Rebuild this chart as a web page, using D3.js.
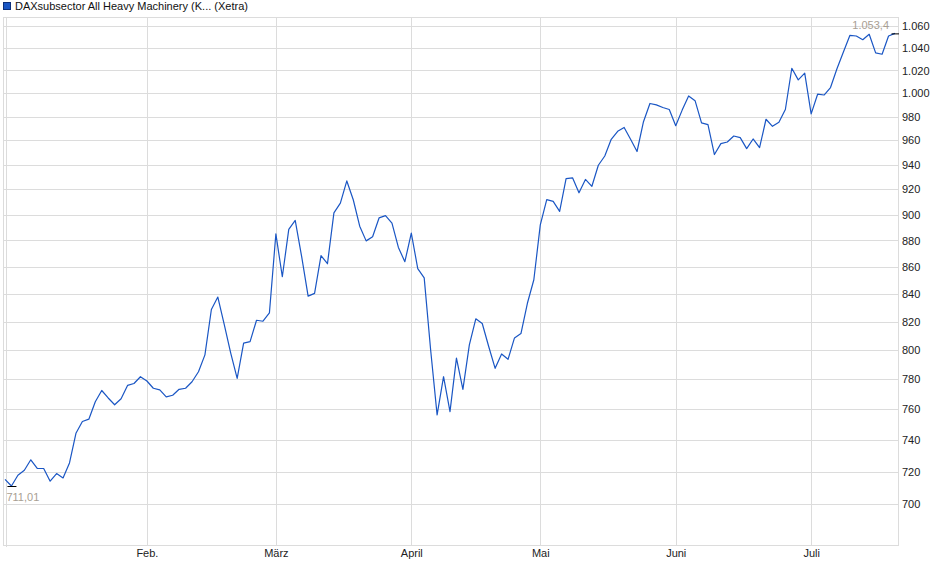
<!DOCTYPE html>
<html><head><meta charset="utf-8">
<script src="https://cdn.jsdelivr.net/npm/d3@7/dist/d3.min.js"></script>
<style>body{margin:0;background:#fff;font-family:"Liberation Sans",Arial,sans-serif;}</style>
</head><body>
<svg id="c" width="940" height="579"></svg>
<script>
const title = "DAXsubsector All Heavy Machinery (K... (Xetra)";
const values = [
715.1,711.01,717.7,720.8,727.4,722,721.9,714,718.7,716,
725.4,744.3,752,753.5,765,772.5,767.5,763,767,775.9,
777.2,781.8,778.9,774,772.9,768.2,769.3,773.3,774,778.4,
785.2,796.8,828.8,837.8,818,798,780.7,805,806,821.1,
820.4,826.4,885,852.7,888.5,895.5,867.7,838.5,840.5,868.5,
862.4,901.3,909,926.7,911.7,891,879.7,882.9,897.4,899.2,
893.4,874.7,863.9,885.6,858.8,851.9,800.2,756.3,781.8,758.5,
794.5,773.3,803.7,822.1,818.8,802.6,787.5,797.4,793.7,808.6,
811.7,833.3,850.5,892,911.8,910.4,902.5,928.6,929.2,917.2,
927.9,922.4,939.4,947,960.8,967.5,970.8,960.8,950.7,975.6,
991.2,990,987.7,986,972.2,985.5,997.7,993.6,974.6,973.2,
948.2,957.2,958.6,963.6,962.2,953.1,961.1,953.9,977.7,971.7,
975.1,986,1022,1011.7,1017.6,982.3,999.2,998.5,1005,1021.5,
1036.5,1051.5,1051,1047.6,1052.6,1035.7,1034.5,1051,1053.4];
const monthLabels = ["Feb.","März","April","Mai","Juni","Juli"];
const monthStartIndex = [22,42,63,83,104,125];
const yTicks = [700,720,740,760,780,800,820,840,860,880,900,920,940,960,980,1000,1020,1040,1060];
const minLabel = "711,01", maxLabel = "1.053,4";

const L=4, R=898, T=17, B=545;
const svg = d3.select("#c");
const x = d3.scaleLinear().domain([0, values.length-1]).range([5, 895]);
const y = d3.scaleLog().domain([675.5, 1068.5]).range([B, T]);
const de = d3.formatLocale({decimal:",", thousands:".", grouping:[3], currency:["","€"]});
const fmt = de.format(",d");
const grid = "#dcdcdc";

// horizontal gridlines
svg.append("g").selectAll("line").data(yTicks).join("line")
  .attr("x1",L).attr("x2",R).attr("y1",d=>Math.round(y(d))+0.5).attr("y2",d=>Math.round(y(d))+0.5)
  .attr("stroke",grid).attr("stroke-width",1);
// vertical gridlines
svg.append("g").selectAll("line").data(monthStartIndex).join("line")
  .attr("x1",d=>Math.round(x(d))+0.5).attr("x2",d=>Math.round(x(d))+0.5).attr("y1",T).attr("y2",B)
  .attr("stroke",grid);
svg.append("line").attr("x1",6.5).attr("x2",6.5).attr("y1",T).attr("y2",B+2).attr("stroke",grid);
// frame
svg.append("rect").attr("x",L-0.5).attr("y",T+0.5).attr("width",R-L+1).attr("height",B-T)
  .attr("fill","none").attr("stroke",grid);

// right axis labels
const yAxis = d3.axisRight(y).tickValues(yTicks).tickFormat(fmt).tickSize(0).tickPadding(4);
const ga = svg.append("g").attr("transform",`translate(${R},0)`).call(yAxis);
ga.select(".domain").remove();
ga.selectAll("text").attr("font-family","Liberation Sans, Arial, sans-serif").attr("font-size",11).attr("fill","#222");

// bottom axis labels
const xAxis = d3.axisBottom(x).tickValues(monthStartIndex).tickFormat((d,i)=>monthLabels[i]).tickSize(0).tickPadding(4);
const gx = svg.append("g").attr("transform",`translate(0,${B})`).call(xAxis);
gx.select(".domain").remove();
gx.selectAll("text").attr("font-family","Liberation Sans, Arial, sans-serif").attr("font-size",11).attr("fill","#222");

// line
const line = d3.line().x((d,i)=>x(i)).y(d=>y(d));
svg.append("path").datum(values).attr("d",line).attr("fill","none")
  .attr("stroke","#1a56c4").attr("stroke-width",1.2).attr("stroke-linejoin","round");

// min/max markers
const iMin = d3.minIndex(values), iMax = values.length-1;
svg.append("line").attr("x1",x(iMin)-4).attr("x2",x(iMin)+5).attr("y1",y(values[iMin])+0.5).attr("y2",y(values[iMin])+0.5).attr("stroke","#000");
svg.append("text").attr("x",x(iMin)-5).attr("y",y(values[iMin])+15).text(minLabel)
  .attr("font-size",11).attr("fill","#a89e92").attr("font-family","Liberation Sans, Arial, sans-serif");
svg.append("line").attr("x1",x(iMax)-3.5).attr("x2",x(iMax)+4).attr("y1",y(values[iMax])+0.5).attr("y2",y(values[iMax])+0.5).attr("stroke","#000");
svg.append("text").attr("x",x(iMax)-6).attr("y",y(values[iMax])-4).attr("text-anchor","end").text(maxLabel)
  .attr("font-size",11).attr("fill","#a89e92").attr("font-family","Liberation Sans, Arial, sans-serif");

// legend/title
svg.append("rect").attr("x",3.5).attr("y",2.5).attr("width",7).attr("height",7).attr("fill","#1a56c4").attr("stroke","#0d2f7a");
svg.append("text").attr("x",15).attr("y",10).text(title).attr("font-size",11).attr("fill","#111")
  .attr("font-family","Liberation Sans, Arial, sans-serif");
</script>
</body></html>
